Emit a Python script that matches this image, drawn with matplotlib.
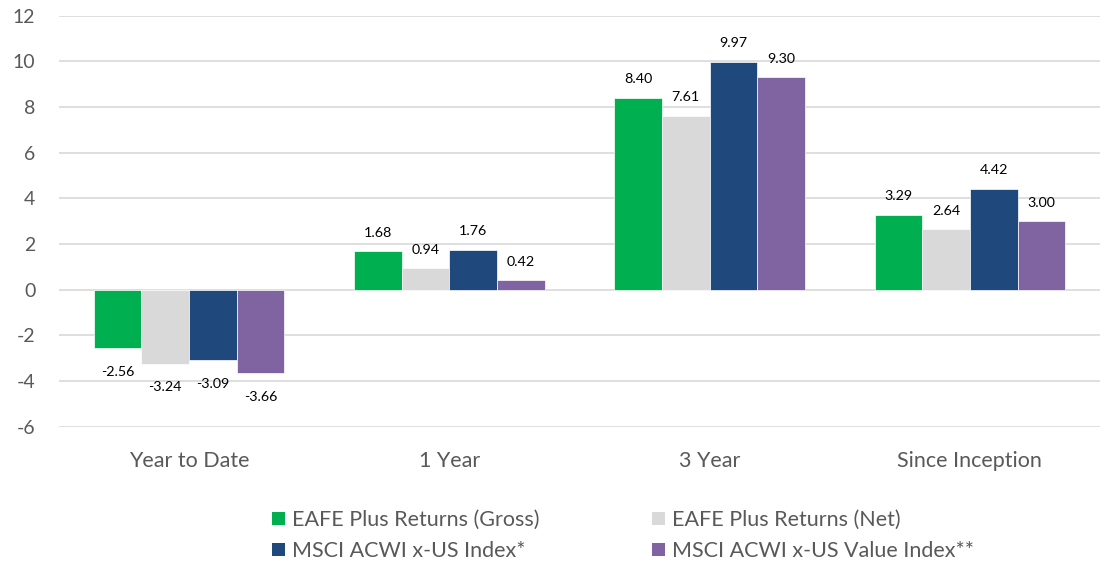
import matplotlib
matplotlib.use("Agg")
import matplotlib.pyplot as plt
import numpy as np
from matplotlib.patches import Patch

categories = ["Year to Date", "1 Year", "3 Year", "Since Inception"]
series_names = ["EAFE Plus Returns (Gross)", "EAFE Plus Returns (Net)",
                "MSCI ACWI x-US Index*", "MSCI ACWI x-US Value Index**"]
gross = [-2.56, 1.68, 8.40, 3.29]
net = [-3.24, 0.94, 7.61, 2.64]
acwi = [-3.09, 1.76, 9.97, 4.42]
value = [-3.66, 0.42, 9.30, 3.00]
colors = ["#00B050", "#D9D9D9", "#1F497D", "#8064A2"]
yticks = [-6, -4, -2, 0, 2, 4, 6, 8, 10, 12]

plt.rcParams['font.family'] = ['Lato', 'DejaVu Sans']
text_color = "#595959"

fig = plt.figure(figsize=(11.09, 5.65), dpi=100)
ax = fig.add_axes([0.0532, 0.2448, 0.9387, 0.7274])

x = np.arange(len(categories))
w = 0.183
all_series = [gross, net, acwi, value]
for i, (vals, c) in enumerate(zip(all_series, colors)):
    xs = x + (i - 1.5) * w
    ax.bar(xs, vals, width=w, color=c, edgecolor="white", linewidth=0.5, zorder=3)
    for xi, v in zip(xs, vals):
        if v >= 0:
            ax.annotate(f"{v:.2f}", (xi, v), xytext=(0, 10.5), textcoords="offset points",
                        ha="center", va="baseline", fontsize=10.3, color="#000000")
        else:
            ax.annotate(f"{v:.2f}", (xi, v), xytext=(0, -20), textcoords="offset points",
                        ha="center", va="baseline", fontsize=10.3, color="#000000")

ax.set_xlim(-0.5, len(categories) - 0.5)
ax.set_ylim(-6, 12)
ax.set_yticks(yticks)
ax.set_yticklabels([str(t) for t in yticks])
ax.set_xticks(x)
ax.set_xticklabels(categories)
ax.tick_params(axis="both", length=0, colors=text_color)
ax.tick_params(axis="y", pad=17, labelsize=14)
ax.tick_params(axis="x", pad=17.5, labelsize=15.5)
ax.grid(axis="y", color="#D9D9D9", linewidth=1.2, zorder=0)
for s in ax.spines.values():
    s.set_visible(False)

handles = [Patch(facecolor=c, edgecolor="none") for c in colors]
leg_kw = dict(frameon=False, fontsize=15.5, handlelength=0.6, handleheight=0.6,
              handletextpad=0.35, labelspacing=0.52, borderpad=0, borderaxespad=0,
              labelcolor=text_color, loc="upper left")
fig.legend([handles[0], handles[2]], [series_names[0], series_names[2]],
           bbox_to_anchor=(272 / 1109, 1 - 510 / 565), **leg_kw)
fig.legend([handles[1], handles[3]], [series_names[1], series_names[3]],
           bbox_to_anchor=(652 / 1109, 1 - 510 / 565), **leg_kw)

fig.savefig("out.png", dpi=100)
